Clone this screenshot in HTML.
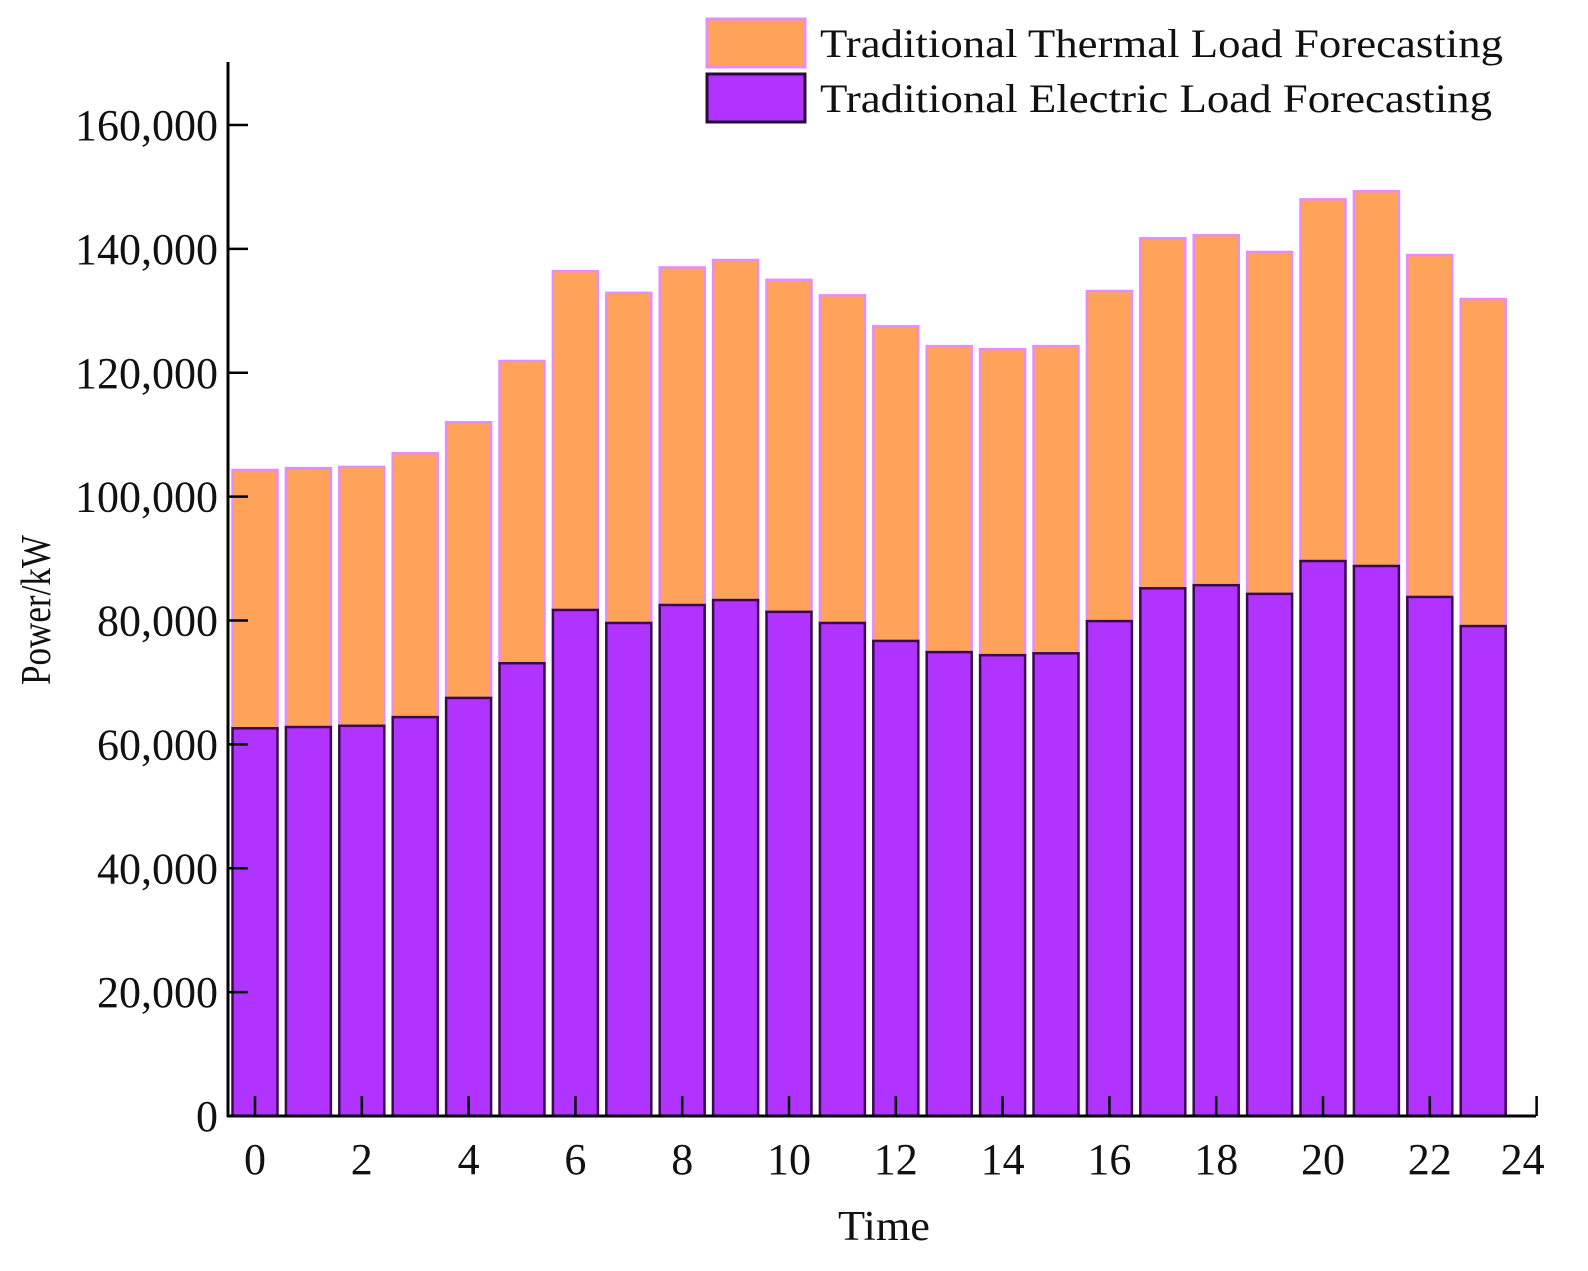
<!DOCTYPE html>
<html><head><meta charset="utf-8"><style>
body{margin:0;background:#fff}
svg{display:block;font-family:"Liberation Serif",serif}
</style></head><body>
<svg id="chart" width="1588" height="1271">
<g id="bars"></g>
<g id="axes"></g>
<g>
<rect x="707" y="19" width="98" height="48" fill="#ffa35a" stroke="#e88cf5" stroke-width="3"/>
<text x="820" y="57" font-size="40" textLength="683" lengthAdjust="spacingAndGlyphs" fill="#111">Traditional Thermal Load Forecasting</text>
<rect x="707" y="74" width="98" height="48" fill="#b033ff" stroke="#2a0838" stroke-width="3"/>
<text x="820" y="112" font-size="40" textLength="672" lengthAdjust="spacingAndGlyphs" fill="#111">Traditional Electric Load Forecasting</text>
</g>
<text x="838" y="1240" font-size="42" textLength="92" lengthAdjust="spacingAndGlyphs" fill="#111">Time</text>
<text transform="translate(50,610) rotate(-90)" text-anchor="middle" font-size="42" textLength="150" lengthAdjust="spacingAndGlyphs" fill="#111">Power/kW</text>
</svg>
<script>
const hours=[0,1,2,3,4,5,6,7,8,9,10,11,12,13,14,15,16,17,18,19,20,21,22,23];
const electric=[62600,62800,63000,64400,67500,73100,81700,79600,82500,83300,81400,79600,76700,74900,74400,74700,79900,85200,85700,84300,89600,88800,83800,79100];
const total=[104300,104600,104800,107000,112000,121900,136400,132900,137000,138200,135000,132500,127500,124300,123800,124300,133200,141700,142200,139500,148000,149300,139000,131900];
const yTicks=[0,20000,40000,60000,80000,100000,120000,140000,160000];
const xTicks=[0,2,4,6,8,10,12,14,16,18,20,22,24];
const NS="http://www.w3.org/2000/svg";
const X0=228,Y0=1116;
const xs=v=>255+v*53.4;
const ys=v=>Y0-v*(991/160000);
const bw=45;
const bars=document.getElementById('bars'),axes=document.getElementById('axes');
function mk(p,tag,attrs){const e=document.createElementNS(NS,tag);for(const k in attrs)e.setAttribute(k,attrs[k]);p.appendChild(e);return e;}
hours.forEach((h,i)=>{
 const cx=xs(h);
 const r1=mk(bars,'rect',{x:cx-bw/2,y:ys(total[i]),width:bw,height:ys(electric[i])-ys(total[i]),fill:'#ffa35a',stroke:'#e88cf5','stroke-width':2.5});
 
 
 const r2=mk(bars,'rect',{x:cx-bw/2,y:ys(electric[i]),width:bw,height:Y0-ys(electric[i]),fill:'#b033ff',stroke:'#3a0a50','stroke-width':2.5});
 
 
});
mk(axes,'line',{x1:X0,y1:62,x2:X0,y2:Y0+1,stroke:'#000','stroke-width':3});
mk(axes,'line',{x1:X0-1,y1:Y0,x2:1536,y2:Y0,stroke:'#000','stroke-width':3});
yTicks.forEach(v=>{
 const y=ys(v);
 mk(axes,'line',{x1:X0,y1:y,x2:X0+20,y2:y,stroke:'#000','stroke-width':2.5});
 const t=mk(axes,'text',{x:X0-10,y:y+15,'text-anchor':'end','font-size':44,fill:'#111'});
 t.textContent=v.toLocaleString('en-US');
 
 
});
xTicks.forEach(v=>{
 const x=xs(v);
 mk(axes,'line',{x1:x,y1:Y0,x2:x,y2:Y0-20,stroke:'#000','stroke-width':2.5});
 const t=mk(axes,'text',{x:v===24?x-14:x,y:Y0+58,'text-anchor':'middle','font-size':44,fill:'#111'});
 t.textContent=v;
 
 
});
</script>
</body></html>
